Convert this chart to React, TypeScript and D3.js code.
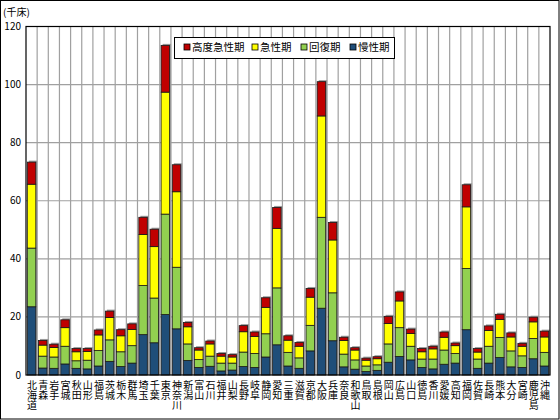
import * as d3 from "d3";
import React from "react";

// 都道府県ごとの必要病床数（千床）
const prefectures = [
  "北海道", "青森", "岩手", "宮城", "秋田", "山形", "福島", "茨城", "栃木", "群馬",
  "埼玉", "千葉", "東京", "神奈川", "新潟", "富山", "石川", "福井", "山梨", "長野",
  "岐阜", "静岡", "愛知", "三重", "滋賀", "京都", "大阪", "兵庫", "奈良", "和歌山",
  "鳥取", "島根", "岡山", "広島", "山口", "徳島", "香川", "愛媛", "高知", "福岡",
  "佐賀", "長崎", "熊本", "大分", "宮崎", "鹿児島", "沖縄",
];

const chronic = [
  23.5, 2.4, 2.3, 3.8, 2.3, 2.1, 3.1, 4.7, 2.9, 4.1,
  13.9, 11.1, 20.8, 15.9, 5.0, 2.6, 3.0, 1.4, 1.7, 2.9,
  2.6, 6.2, 10.4, 3.1, 2.3, 8.3, 23.0, 11.8, 2.8, 2.0,
  1.2, 1.6, 4.4, 6.4, 5.2, 2.6, 2.1, 3.7, 4.1, 15.6,
  2.3, 4.1, 6.0, 2.8, 2.6, 5.6, 3.1,
];
const recovery = [
  20.2, 4.1, 3.9, 6.1, 2.6, 3.0, 5.3, 7.4, 5.1, 6.0,
  16.9, 15.4, 34.6, 21.2, 5.7, 2.7, 3.5, 2.7, 2.4, 5.0,
  4.8, 8.0, 19.6, 4.7, 3.6, 8.8, 31.3, 16.5, 4.4, 3.2,
  1.9, 1.9, 6.3, 9.9, 4.7, 2.9, 3.4, 4.9, 3.3, 21.1,
  3.2, 5.8, 6.9, 5.5, 4.0, 7.0, 4.7,
];
const acute = [
  22.0, 3.8, 3.3, 6.4, 3.1, 3.0, 5.4, 7.7, 5.5, 5.6,
  17.6, 17.7, 42.0, 26.0, 5.9, 3.3, 4.2, 2.4, 2.1, 7.0,
  5.9, 9.1, 20.5, 4.2, 4.0, 9.7, 34.9, 18.2, 4.7, 3.4,
  2.0, 2.1, 7.0, 9.2, 4.4, 2.5, 3.5, 4.4, 2.7, 21.2,
  2.4, 5.4, 6.2, 4.8, 3.3, 5.7, 5.3,
];
const highAcute = [
  7.6, 1.6, 1.1, 2.7, 1.1, 1.0, 1.7, 2.2, 2.1, 1.9,
  5.9, 6.0, 16.1, 9.3, 1.5, 0.8, 1.0, 0.9, 0.8, 2.1,
  1.5, 3.3, 7.2, 1.5, 1.3, 3.0, 11.8, 6.0, 1.1, 0.8,
  0.7, 0.7, 2.5, 3.1, 1.5, 1.1, 0.9, 1.8, 0.9, 7.6,
  1.2, 1.6, 1.8, 1.4, 1.0, 1.6, 2.0,
];

const yTicks = [0, 20, 40, 60, 80, 100, 120];

const seriesKeys = ["chronic", "recovery", "acute", "highAcute"];
const seriesNames: Record<string, string> = {
  highAcute: "高度急性期",
  acute: "急性期",
  recovery: "回復期",
  chronic: "慢性期",
};
const colors: Record<string, string> = {
  highAcute: "#c00000",
  acute: "#ffff00",
  recovery: "#92d050",
  chronic: "#1f4e79",
};
const legendOrder = ["highAcute", "acute", "recovery", "chronic"];

const font = "'Noto Sans CJK JP', 'Noto Sans', sans-serif";

export default function App() {
  const width = 560;
  const height = 420;
  const left = 26;
  const right = 550;
  const top = 26.5;
  const bottom = 375;

  const rows = prefectures.map((p, i) => ({
    name: p,
    chronic: chronic[i],
    recovery: recovery[i],
    acute: acute[i],
    highAcute: highAcute[i],
  }));

  const x = d3.scaleBand().domain(prefectures).range([left, right]).paddingInner(0.24).paddingOuter(0.12);
  const y = d3.scaleLinear().domain([0, 120]).range([bottom, top]);
  const stacked = d3.stack<any>().keys(seriesKeys)(rows);
  const bw = x.bandwidth();

  return (
    <svg width={width} height={height} style={{ position: "absolute", left: 0, top: 0, background: "#fff" }}>
      <rect x={0.5} y={0.5} width={width - 1.5} height={height - 1.5} fill="#fff" stroke="#000" />

      {/* grid */}
      {yTicks.slice(1, -1).map((t) => (
        <line key={"h" + t} x1={left} x2={right} y1={y(t)} y2={y(t)} stroke="#a0a0a0" strokeWidth={1.2} />
      ))}
      {prefectures.slice(1).map((p, i) => {
        const gx = left + (i + 1) * (right - left) / prefectures.length;
        return <line key={"v" + p} x1={gx} x2={gx} y1={top} y2={bottom} stroke="#a0a0a0" strokeWidth={1.2} />;
      })}

      {/* bar shadows */}
      {rows.map((r, i) => {
        const total = r.chronic + r.recovery + r.acute + r.highAcute;
        return (
          <rect key={"s" + i} x={x(r.name)! + 1.5} y={y(total) - 1.5} width={bw} height={bottom - y(total) + 1.5} fill="#9a9a9a" />
        );
      })}

      {stacked.map((s) => (
        <g key={s.key}>
          {s.map((d, i) => (
            <rect
              key={i}
              x={x(prefectures[i])}
              y={y(d[1])}
              width={bw}
              height={y(d[0]) - y(d[1])}
              fill={colors[s.key]}
              stroke="#1a1a1a"
              strokeWidth={0.8}
            />
          ))}
        </g>
      ))}

      {/* plot border */}
      <rect x={left} y={top} width={right - left} height={bottom - top} fill="none" stroke="#000" strokeWidth={1.2} />

      {/* y axis labels */}
      {yTicks.map((t) => (
        <text key={"yt" + t} x={21} y={y(t) + 3.5} textAnchor="end" fontSize={10} fontFamily={font} fill="#000">
          {t}
        </text>
      ))}
      <text x={3} y={15.5} fontSize={10} fontFamily={font} fill="#000">(千床)</text>

      {/* x axis labels, vertical */}
      {prefectures.map((p) => (
        <text
          key={"xl" + p}
          x={x(p)! + bw / 2 + 0.5}
          y={380}
          fontSize={10}
          fontFamily={font}
          fill="#000"
          style={{ writingMode: "vertical-rl" }}
        >
          {p}
        </text>
      ))}

      {/* legend */}
      <rect x={174.5} y={37.5} width={220} height={21} fill="#fff" stroke="#000" strokeWidth={1} />
      {legendOrder.map((k, i) => {
        const lx = [184, 252, 301, 350][i];
        return (
          <g key={"lg" + k}>
            <rect x={lx} y={44} width={6} height={6} fill={colors[k]} stroke="#000" strokeWidth={0.8} />
            <text x={lx + 8} y={51} fontSize={10.5} fontFamily={font} fill="#000">
              {seriesNames[k]}
            </text>
          </g>
        );
      })}
    </svg>
  );
}
